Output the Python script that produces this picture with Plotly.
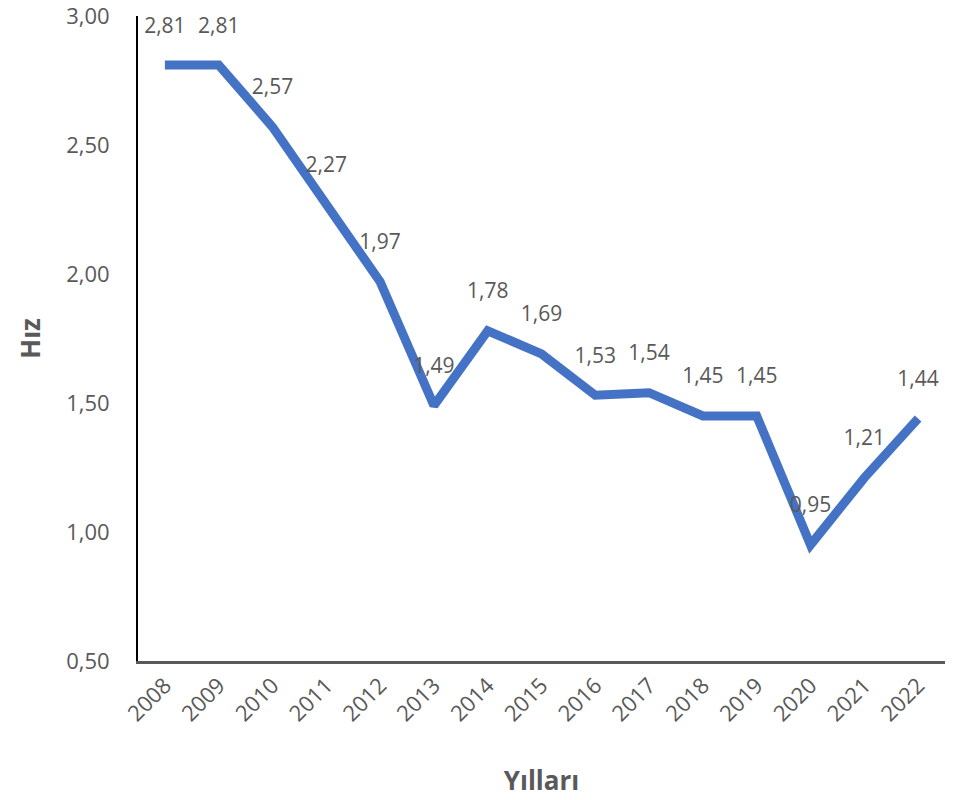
import plotly.graph_objects as go

years = ["2008", "2009", "2010", "2011", "2012", "2013", "2014", "2015",
         "2016", "2017", "2018", "2019", "2020", "2021", "2022"]
hiz = [2.81, 2.81, 2.57, 2.27, 1.97, 1.49, 1.78, 1.69, 1.53, 1.54, 1.45, 1.45, 0.95, 1.21, 1.44]

labels = [f"{v:.2f}".replace(".", ",") for v in hiz]
FONT = "Open Sans"

fig = go.Figure()
fig.add_trace(go.Scatter(
    x=years, y=hiz, mode="lines",
    line=dict(color="#4472C4", width=9),
    hoverinfo="skip", showlegend=False,
))
fig.add_trace(go.Scatter(
    x=years, y=hiz, mode="markers+text",
    marker=dict(size=42, opacity=0),
    text=labels, textposition="top center",
    textfont=dict(family=FONT, size=21, color="#595959"),
    hoverinfo="skip", showlegend=False, cliponaxis=False,
))

fig.update_layout(
    width=953, height=800,
    margin=dict(l=138, r=8, t=16, b=139, autoexpand=False),
    paper_bgcolor="white", plot_bgcolor="white",
    separators=",.",
    font=dict(family=FONT, color="#595959"),
    xaxis=dict(
        type="category", range=[-0.5, 14.5], automargin=False,
        showline=True, linecolor="#595959", linewidth=3,
        showgrid=False, zeroline=False,
        tickangle=-45, tickfont=dict(size=22, color="#595959"),
        ticks="",
        title=dict(text="<b>Yılları</b>", font=dict(size=26, color="#595959"), standoff=46),
    ),
    yaxis=dict(
        range=[0.5, 3.0], dtick=0.5, tick0=0.5, tickformat=".2f", automargin=False,
        showline=True, linecolor="black", linewidth=2,
        showgrid=False, zeroline=False,
        tickfont=dict(size=22, color="#595959"),
        ticklabeloverflow="allow",
        ticks="outside", ticklen=22, tickcolor="rgba(0,0,0,0)",
        title=dict(text="<b>Hız</b>", font=dict(size=26, color="#595959"), standoff=18),
    ),
)

fig.write_html("out.html", config={"displayModeBar": False},
               post_script="document.body.style.margin='0';")
